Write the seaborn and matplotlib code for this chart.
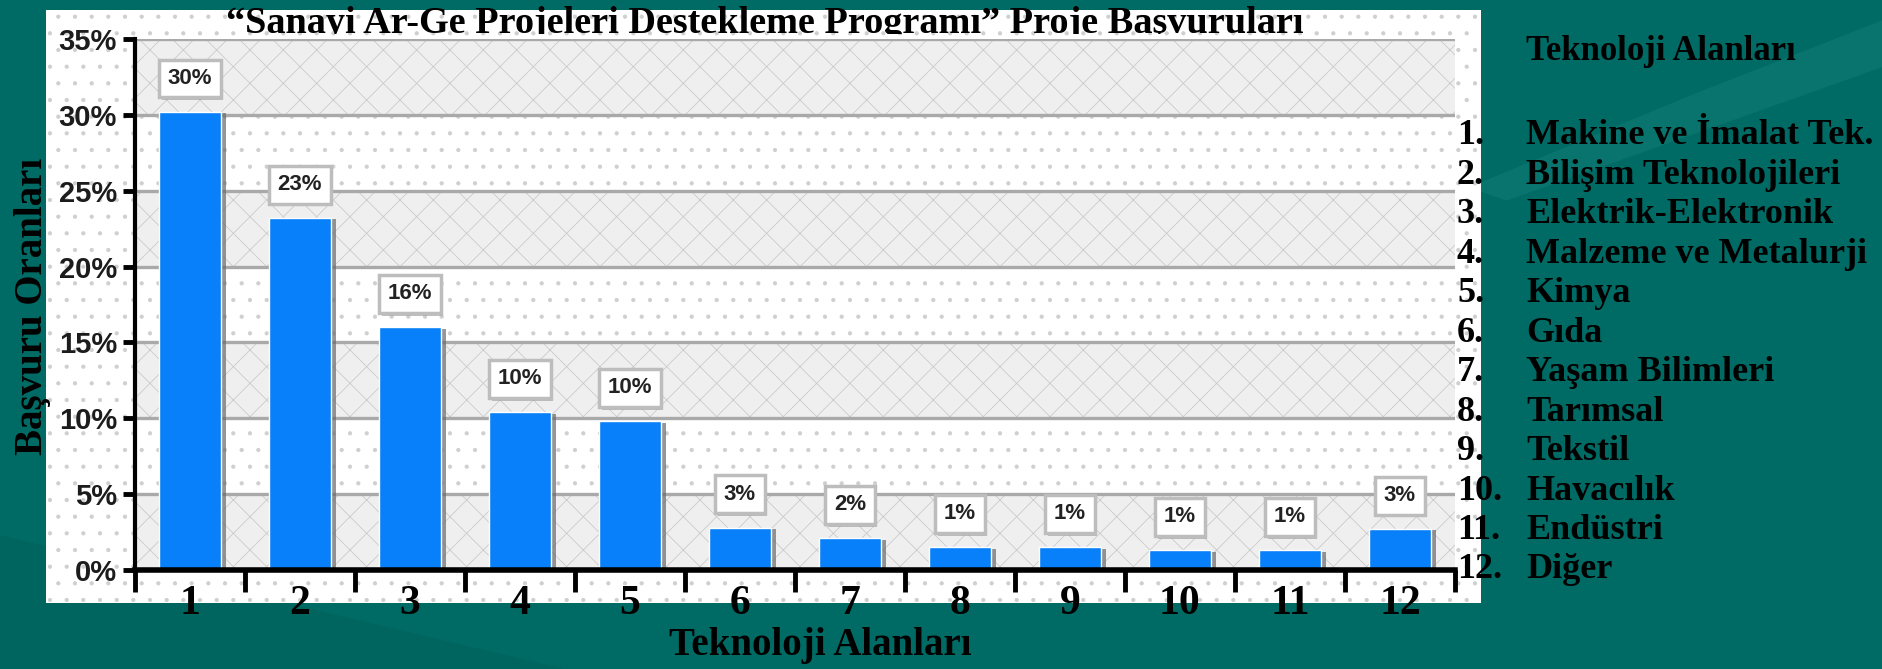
import matplotlib
matplotlib.use("Agg")
import matplotlib.pyplot as plt
import matplotlib.patheffects as pe
from matplotlib.patches import Rectangle, Polygon
from matplotlib.transforms import Bbox, TransformedBbox
import pandas as pd
import seaborn as sns

# chart data
categories = ["1", "2", "3", "4", "5", "6", "7", "8", "9", "10", "11", "12"]
rates = [30.2, 23.2, 16.0, 10.4, 9.8, 2.8, 2.1, 1.5, 1.5, 1.3, 1.3, 2.7]
rate_labels = ["30%", "23%", "16%", "10%", "10%", "3%", "2%", "1%", "1%", "1%", "1%", "3%"]
y_ticks = [0, 5, 10, 15, 20, 25, 30, 35]
area_names = ["Makine ve İmalat Tek.", "Bilişim Teknolojileri", "Elektrik-Elektronik",
              "Malzeme ve Metalurji", "Kimya", "Gıda", "Yaşam Bilimleri", "Tarımsal",
              "Tekstil", "Havacılık", "Endüstri", "Diğer"]

title = "\u201cSanayi Ar-Ge Projeleri Destekleme Programı\u201d Proje Başvuruları"

df = pd.DataFrame({"alan": categories, "oran": rates})

sns.set_style("white")
plt.rcParams["hatch.linewidth"] = 0.6
SERIF = ["Liberation Serif", "DejaVu Serif"]
SANS = ["Liberation Sans", "DejaVu Sans"]

W, H = 1883, 669
fig = plt.figure(figsize=(W / 100, H / 100), dpi=100)
fig.patch.set_facecolor("#006b65")

px = lambda x: x / W
py = lambda y: 1 - y / H

# subtle background swooshes of the slide
fig.patches.append(Polygon([(0, 0), (0.0, 0.20), (0.30, 0.0)], closed=True,
                           transform=fig.transFigure, fc="#00655f", ec="none", zorder=-3))
fig.patches.append(Polygon([(0.78, 0.72), (0.90, 0.86), (1.0, 0.97), (1.0, 0.90), (0.80, 0.70)],
                           closed=True, transform=fig.transFigure, fc="#08746d", ec="none", zorder=-3))

# white chart panel with small dots
fig.patches.append(Rectangle((px(46), py(603)), px(1481 - 46), (603 - 10) / H,
                             transform=fig.transFigure, fc="white", ec="none", zorder=-2))
fig.patches.append(Rectangle((px(46), py(603)), px(1481 - 46), (603 - 10) / H,
                             transform=fig.transFigure, fc="none", ec="#cfcfcf",
                             hatch=".", lw=0, zorder=-1))

ax = fig.add_axes([px(135), 99 / H, px(1455 - 135), 531 / H])
ax.set_zorder(2)
ax.patch.set_alpha(0)

# alternating hatched bands
for lo in [0, 10, 20, 30]:
    ax.axhspan(lo, lo + 5, fc="#efefef", ec="#cbcbcb", hatch="x", lw=0, zorder=0)
for yv in y_ticks[1:]:
    ax.axhline(yv, color="#a9a9a9", lw=2.4, zorder=0.5)

sns.barplot(data=df, x="alan", y="oran", order=categories, color="#0880fa",
            width=0.56, saturation=1, ax=ax, zorder=2)
for bar in ax.patches:
    bar.set_path_effects([pe.SimplePatchShadow(offset=(4, -1), shadow_rgbFace="#6a6a6a", alpha=0.7),
                          pe.Normal()])

for i, (v, lab) in enumerate(zip(rates, rate_labels)):
    ann = ax.annotate(lab, (i, v), xytext=(0, 24), textcoords="offset points",
                      ha="center", va="center", fontsize=16, fontweight="bold",
                      family=SANS, color="#222222", zorder=4,
                      bbox=dict(boxstyle="square,pad=0.38", fc="white", ec="#bdbdbd", lw=2.5))
    ann.get_bbox_patch().set_path_effects([
        pe.SimplePatchShadow(offset=(2, -2), shadow_rgbFace="#999999", alpha=0.6), pe.Normal()])

ax.set_xlim(-0.5, 11.5)
ax.set_ylim(0, 35)
ax.set_yticks(y_ticks)
ax.set_yticklabels([f"{t}%" for t in y_ticks], fontsize=21, fontweight="bold",
                   family=SANS, color="#1c1c1c")
ax.set_xticks(range(12))
ax.set_xticklabels(categories, fontsize=30, fontweight="bold", family=SERIF, color="black")
ax.set_xticks([i - 0.5 for i in range(13)], minor=True)
ax.tick_params(axis="y", direction="out", length=9, width=3.5, pad=4, left=True, color="black")
ax.tick_params(axis="x", which="major", length=0, pad=11)
ax.tick_params(axis="x", which="minor", direction="out", length=16, width=3.5, bottom=True, color="black")
ax.set_xlabel("")
ax.set_ylabel("")
for s in ["top", "right"]:
    ax.spines[s].set_visible(False)
ax.spines["left"].set_linewidth(3)
ax.spines["left"].set_color("black")
ax.spines["bottom"].set_linewidth(4)
ax.spines["bottom"].set_color("black")
ax.spines["left"].set_zorder(5)
ax.spines["bottom"].set_zorder(5)

# titles and axis names
t = fig.text(px(765), py(33), title, ha="center", va="baseline", fontsize=27.5,
             fontweight="bold", family=SERIF, color="black", zorder=6)
t.set_clip_on(True)
t.set_clip_box(TransformedBbox(Bbox([[0, py(34)], [1, 1]]), fig.transFigure))
fig.text(px(33), py(306), "Başvuru Oranları", rotation=90, ha="center", va="center",
         fontsize=28, fontweight="bold", family=SERIF, color="black")
fig.text(px(820), py(645), "Teknoloji Alanları", ha="center", va="center",
         fontsize=28, fontweight="bold", family=SERIF, color="black")

# right-hand list of technology areas
fig.text(px(1526), py(52), "Teknoloji Alanları", ha="left", va="center",
         fontsize=25, fontweight="bold", family=SERIF, color="black")
for k, name in enumerate(area_names):
    yy = py(136 + k * 39.45)
    fig.text(px(1457), yy, f"{k + 1}.", ha="left", va="center", fontsize=26,
             fontweight="bold", family=SERIF, color="black", zorder=6)
    fig.text(px(1526), yy, name, ha="left", va="center", fontsize=26,
             fontweight="bold", family=SERIF, color="black", zorder=6)

fig.savefig("out.png", dpi=100, facecolor=fig.get_facecolor())
